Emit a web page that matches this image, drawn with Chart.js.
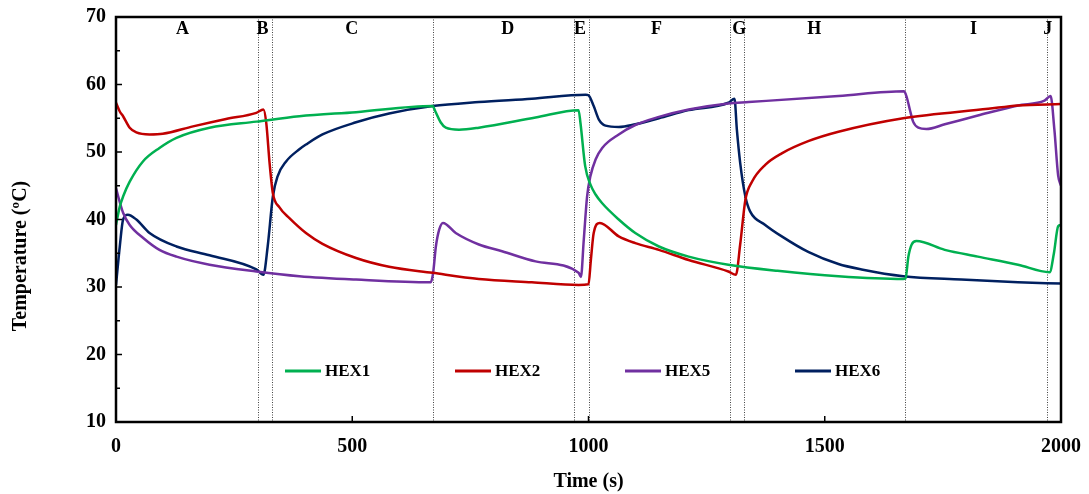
<!DOCTYPE html>
<html>
<head>
<meta charset="utf-8">
<script src="https://cdn.jsdelivr.net/npm/chart.js@4.4.1/dist/chart.umd.min.js"></script>
<style>
  html, body { margin: 0; padding: 0; background: #fff; }
  #wrap { width: 1089px; height: 494px; }
</style>
</head>
<body>
<div id="wrap"><canvas id="tempChart" width="1089" height="494"></canvas></div>
<script>
// HEX1 outlet temperature
const hex1Time = [0, 8, 15, 29, 57, 92, 128, 198, 297, 388, 508, 670, 676, 687, 698, 726, 768, 888, 979, 983, 993, 1004, 1015, 1029, 1064, 1099, 1149, 1212, 1296, 1400, 1529, 1666, 1671, 1677, 1684, 1694, 1754, 1824, 1909, 1976, 1985, 1994, 2000];
const hex1Temp = [39.2, 41.9, 43.4, 45.6, 48.6, 50.6, 52.1, 53.6, 54.5, 55.3, 55.9, 56.8, 56.0, 54.4, 53.6, 53.3, 53.6, 55.1, 56.2, 54.3, 47.9, 45.2, 43.7, 42.4, 40.0, 38.0, 36.0, 34.5, 33.3, 32.4, 31.6, 31.2, 31.3, 34.5, 36.3, 36.8, 35.5, 34.5, 33.3, 32.2, 35.0, 39.0, 39.2];

// HEX2
const hex2Time = [0, 8, 15, 29, 43, 71, 99, 163, 233, 297, 312, 318, 325, 332, 346, 367, 402, 437, 508, 578, 670, 768, 880, 979, 1000, 1005, 1011, 1024, 1064, 1099, 1149, 1212, 1296, 1312, 1321, 1332, 1346, 1374, 1409, 1465, 1529, 1666, 1846, 1909, 2000];
const hex2Temp = [57.3, 56.0, 55.3, 53.6, 52.9, 52.6, 52.7, 53.8, 54.9, 55.8, 56.3, 54.3, 48.4, 43.9, 41.8, 40.2, 38.0, 36.4, 34.3, 33.0, 32.1, 31.2, 30.7, 30.3, 30.4, 34.0, 38.0, 39.5, 37.5, 36.5, 35.5, 34.0, 32.3, 31.8, 36.3, 42.9, 45.6, 48.1, 49.8, 51.6, 53.0, 55.0, 56.4, 56.9, 57.1];

// HEX5
const hex5Time = [0, 15, 29, 57, 92, 128, 198, 297, 388, 508, 666, 671, 677, 684, 692, 719, 768, 817, 888, 979, 984, 990, 997, 1004, 1015, 1029, 1064, 1099, 1149, 1212, 1296, 1339, 1529, 1668, 1674, 1680, 1687, 1698, 1715, 1754, 1824, 1909, 1965, 1978, 1986, 1994, 2000];
const hex5Temp = [44.6, 41.0, 39.2, 37.3, 35.5, 34.5, 33.3, 32.3, 31.6, 31.1, 30.7, 32.0, 36.0, 38.5, 39.5, 38.0, 36.3, 35.3, 33.8, 32.1, 31.5, 37.0, 43.4, 46.4, 48.9, 50.6, 52.6, 54.0, 55.2, 56.3, 57.2, 57.4, 58.3, 59.0, 58.0, 56.3, 54.5, 53.6, 53.4, 54.1, 55.4, 56.9, 57.6, 58.3, 53.3, 46.5, 45.0];

// HEX6
const hex6Time = [0, 8, 15, 25, 43, 71, 128, 198, 297, 312, 321, 332, 342, 360, 388, 402, 437, 508, 578, 670, 768, 880, 994, 1000, 1011, 1022, 1036, 1064, 1099, 1149, 1212, 1296, 1309, 1314, 1321, 1332, 1342, 1374, 1409, 1465, 1529, 1578, 1666, 1789, 1909, 2000];
const hex6Temp = [30.3, 36.0, 40.0, 40.7, 40.0, 38.0, 36.0, 34.7, 32.6, 31.8, 36.0, 43.4, 46.4, 48.6, 50.4, 51.1, 52.6, 54.4, 55.7, 56.8, 57.4, 57.9, 58.5, 58.4, 56.8, 54.8, 53.9, 53.7, 54.1, 55.0, 56.2, 57.3, 57.9, 53.3, 48.4, 43.4, 41.2, 39.2, 37.5, 35.2, 33.4, 32.6, 31.6, 31.1, 30.7, 30.5];

// operating phases
const phaseBounds = [300, 330, 670, 970, 1000, 1300, 1330, 1670, 1970];
const phaseNames = ["A", "B", "C", "D", "E", "F", "G", "H", "I", "J"];
const phaseLabelAt = [141, 310, 499, 829, 982, 1144, 1319, 1478, 1815, 1972];
const phaseLabelTemp = 68.2;

const timeRange = [0, 2000];
const timeStep = 500;
const tempRange = [10, 70];
const tempStep = 10;

const serif = '"Liberation Serif", "Times New Roman", serif';

const toPoints = (ts, vs) => ts.map((t, i) => ({ x: t, y: vs[i] }));

const series = [
  { label: "HEX1", color: "#00B050", data: toPoints(hex1Time, hex1Temp) },
  { label: "HEX2", color: "#C00000", data: toPoints(hex2Time, hex2Temp) },
  { label: "HEX5", color: "#7030A0", data: toPoints(hex5Time, hex5Temp) },
  { label: "HEX6", color: "#002060", data: toPoints(hex6Time, hex6Temp) },
];

const decorations = {
  id: "decorations",
  beforeDatasetsDraw(chart) {
    const { ctx, chartArea: a, scales: { x, y } } = chart;
    ctx.save();
    // dotted phase boundaries
    ctx.strokeStyle = "#444";
    ctx.lineWidth = 1;
    ctx.setLineDash([1, 1.5]);
    phaseBounds.forEach((b) => {
      const px = Math.round(x.getPixelForValue(b)) + 0.5;
      ctx.beginPath();
      ctx.moveTo(px, a.top);
      ctx.lineTo(px, a.bottom);
      ctx.stroke();
    });
    ctx.setLineDash([]);
    ctx.fillStyle = "#000";
    ctx.font = "bold 18px " + serif;
    ctx.textAlign = "center";
    ctx.textBaseline = "middle";
    phaseNames.forEach((n, i) => {
      ctx.fillText(n, x.getPixelForValue(phaseLabelAt[i]), y.getPixelForValue(phaseLabelTemp));
    });
    ctx.restore();
  },
  afterDatasetsDraw(chart) {
    const { ctx, chartArea: a, scales: { x, y } } = chart;
    ctx.save();
    ctx.strokeStyle = "#000";
    // tick marks pointing into the plot
    ctx.lineWidth = 1.5;
    y.ticks.forEach((t) => {
      const py = y.getPixelForValue(t.value);
      const len = t.value % tempStep === 0 ? 6 : 4;
      ctx.beginPath();
      ctx.moveTo(a.left, py);
      ctx.lineTo(a.left + len, py);
      ctx.stroke();
    });
    x.ticks.forEach((t) => {
      const px = x.getPixelForValue(t.value);
      ctx.beginPath();
      ctx.moveTo(px, a.bottom);
      ctx.lineTo(px, a.bottom - 6);
      ctx.stroke();
    });
    // frame
    ctx.lineWidth = 2.5;
    ctx.strokeRect(a.left, a.top, a.right - a.left, a.bottom - a.top);

    // legend inside the plot
    ctx.font = "bold 17px " + serif;
    ctx.textAlign = "left";
    ctx.textBaseline = "middle";
    ctx.fillStyle = "#000";
    chart.data.datasets.forEach((ds, i) => {
      const lx = 285 + i * 170;
      const ly = 371;
      ctx.strokeStyle = ds.borderColor;
      ctx.lineWidth = 3;
      ctx.beginPath();
      ctx.moveTo(lx, ly);
      ctx.lineTo(lx + 36, ly);
      ctx.stroke();
      ctx.fillText(ds.label, lx + 40, ly + 1);
    });

    // y axis title
    ctx.font = "bold 20px " + serif;
    ctx.textAlign = "center";
    ctx.translate(21, 256);
    ctx.rotate(-Math.PI / 2);
    ctx.fillText("Temperature (ºC)", 0, 0);
    ctx.restore();
  },
};

new Chart(document.getElementById("tempChart"), {
  type: "line",
  data: {
    datasets: series.map((s) => ({
      label: s.label,
      data: s.data,
      borderColor: s.color,
      backgroundColor: s.color,
      borderWidth: 2.5,
      pointRadius: 0,
      cubicInterpolationMode: "monotone",
      fill: false,
    })),
  },
  options: {
    responsive: false,
    animation: false,
    devicePixelRatio: 1,
    layout: { padding: { left: 0, top: 17, right: 28, bottom: 0 } },
    plugins: { legend: { display: false }, tooltip: { enabled: false } },
    scales: {
      x: {
        type: "linear",
        min: timeRange[0],
        max: timeRange[1],
        grid: { display: false, drawTicks: false },
        border: { display: false },
        ticks: {
          stepSize: timeStep,
          padding: 13,
          color: "#000",
          font: { family: serif, weight: "bold", size: 20 },
          callback: (v) => String(v),
        },
        title: {
          display: true,
          text: "Time (s)",
          color: "#000",
          font: { family: serif, weight: "bold", size: 20 },
          padding: { top: 0, bottom: 0 },
        },
        afterFit(scale) {
          scale.height = 72;
          scale.paddingLeft = 0;
          scale.paddingRight = 0;
        },
      },
      y: {
        min: tempRange[0],
        max: tempRange[1],
        grid: { display: false, drawTicks: false },
        border: { display: false },
        ticks: {
          stepSize: tempStep / 2,
          autoSkip: false,
          padding: 10,
          color: "#000",
          font: { family: serif, weight: "bold", size: 20 },
          callback: (v) => (v % tempStep === 0 ? v : ""),
        },
        afterFit(scale) {
          scale.width = 116;
          scale.paddingTop = 0;
          scale.paddingBottom = 0;
        },
      },
    },
  },
  plugins: [decorations],
});
</script>
</body>
</html>
